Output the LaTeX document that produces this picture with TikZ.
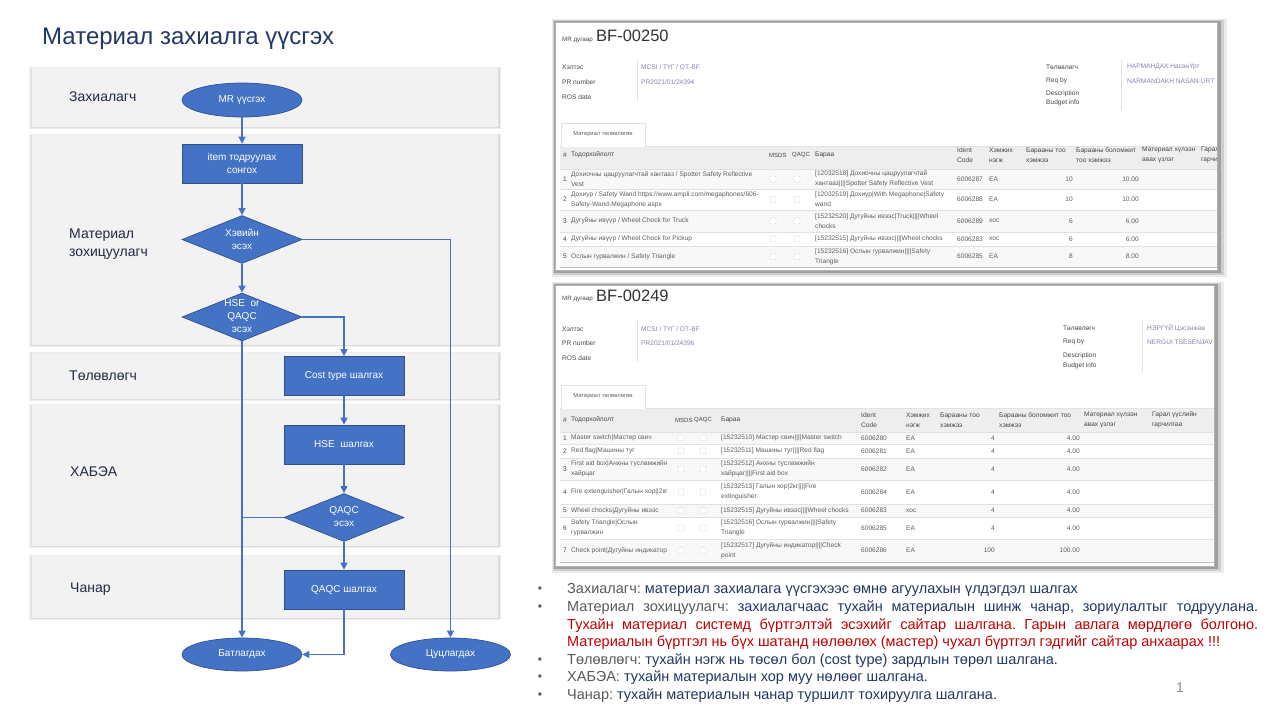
\documentclass[tikz,border=0pt]{standalone}
\usepackage{fontspec}
\setmainfont{Liberation Sans}
\usetikzlibrary{shapes.geometric,arrows.meta,calc}
\definecolor{laneGray}{HTML}{F2F2F2}
\definecolor{nodeBlue}{HTML}{4472C4}
\definecolor{nodeBorder}{HTML}{2F528F}
\definecolor{lineBlue}{HTML}{4472C4}
\definecolor{titleNavy}{HTML}{1F3864}
\definecolor{laneText}{HTML}{1F2A44}
\definecolor{bNavy}{HTML}{203864}
\definecolor{bGray}{HTML}{595959}
\definecolor{bRed}{HTML}{C00000}
\definecolor{ssText}{HTML}{5E5E5E}
\definecolor{ssHead}{HTML}{464646}
\definecolor{ssLink}{HTML}{8585AE}
\definecolor{ssLine}{HTML}{E2E2E2}
\definecolor{ssHeadBg}{HTML}{EEEEEE}
\definecolor{ssRowBg}{HTML}{F8F8F8}
\definecolor{ssBox}{HTML}{CFCFCF}
\newcommand\fsz[2]{\fontsize{#1}{#2}\selectfont}
\newcommand\ssf{\fontsize{6.6}{10}\selectfont}
\newcounter{nc}
\newcommand\tc[3]{\stepcounter{nc}\node[sscell] (s\arabic{nc}) at (#1,#2) {#3};}
\newcommand\tr[3]{\stepcounter{nc}\node[sscell,anchor=east,align=right] (s\arabic{nc}) at (#1,#2) {#3};}
\newcommand\hd[3]{\stepcounter{nc}\node[sscell,text=ssHead] (s\arabic{nc}) at (#1,#2) {#3};}
\newcommand\hs[3]{\stepcounter{nc}\node[sscell,text=ssHead,font=\fsz{6}{8}] (s\arabic{nc}) at (#1,#2) {#3};}
\newcommand\cb[2]{\stepcounter{nc}\node[chk] (s\arabic{nc}) at (#1,#2) {};}
\tikzset{
  lane/.style={fill=laneGray},
  laneshadow/.style={fill=black,opacity=0.07},
  lanelbl/.style={anchor=west,inner sep=0pt,font=\fsz{14}{17.7},text=laneText,align=left},
  proc/.style={rectangle,draw=nodeBorder,fill=nodeBlue,line width=0.7pt,minimum width=120pt,minimum height=39pt,inner sep=1pt,text=white,font=\fsz{10}{13},align=center},
  dec/.style={diamond,draw=nodeBorder,fill=nodeBlue,line width=0.7pt,minimum width=120pt,minimum height=48pt,inner sep=0pt},
  declbl/.style={text=white,font=\fsz{10}{13},align=center,inner sep=0pt},
  term/.style={ellipse,draw=nodeBorder,fill=nodeBlue,line width=0.7pt,minimum width=120pt,minimum height=34pt,inner sep=0pt,text=white,font=\fsz{10}{13}},
  flow/.style={draw=lineBlue,line width=1.1pt,-{Triangle[length=7pt,width=7pt]}},
  flowline/.style={draw=lineBlue,line width=1.1pt},
  sscell/.style={anchor=west,inner sep=0pt,font=\ssf,text=ssText,align=left},
  chk/.style={draw=ssBox,fill=white,minimum size=6pt,inner sep=0pt,rounded corners=0.8pt,line width=0.4pt},
  btxt/.style={anchor=west,inner sep=0pt,font=\fsz{14.5}{17.7}\frenchspacing,text=bNavy},
  bul/.style={anchor=center,inner sep=0pt,font=\fsz{12}{14},text=bGray},
  fld/.style={anchor=west,inner sep=0pt,font=\fsz{6.6}{8},text=ssHead},
  fldv/.style={anchor=west,inner sep=0pt,font=\fsz{6.6}{8},text=ssLink},
}
\begin{document}
\begin{tikzpicture}[x=1pt,y=-1pt]
\useasboundingbox (0,0) rectangle (1280,720);
\fill[white] (0,0) rectangle (1280,720);

% ---------- title ----------
\node[anchor=west,inner sep=0pt,font=\fsz{24}{28},text=titleNavy] (title) at (42,39) {Материал захиалга үүсгэх};

% ---------- swimlanes ----------
\foreach \ya/\yb in {68/127,135/345,353/399,405/546,556/618}{
  \fill[laneshadow] (29,\ya-1) rectangle (501,\yb+2);
  \fill[laneshadow] (30.5,\ya) rectangle (499.5,\yb+1);
  \fill[lane] (32,\ya) rectangle (498,\yb);
}
\node[lanelbl] (l1) at (69,97) {Захиалагч};
\node[lanelbl] (l2) at (69,244) {Материал\\зохицуулагч};
\node[lanelbl] (l3) at (69,376) {Төлөвлөгч};
\node[lanelbl] (l4) at (70,472) {ХАБЭА};
\node[lanelbl] (l5) at (70,589) {Чанар};

% ---------- flowchart nodes ----------
\node[term] (mr) at (242,100) {MR үүсгэх};
\node[proc] (item) at (242,163.5) {item тодруулах\\сонгох};
\node[dec] (hev) at (242,239.5) {};
\node[declbl] (hevt) at (242,239) {Хэвийн\\эсэх};
\node[dec] (hq) at (242,317) {};
\node[declbl] (hqt) at (242,316.5) {HSE\ \ or\\QAQC\\эсэх};
\node[proc] (cost) at (344,376) {Cost type шалгах};
\node[proc] (hse) at (344,444.5) {HSE\ \ шалгах};
\node[dec] (qq) at (344,517.5) {};
\node[declbl] (qqt) at (344,517) {QAQC\\эсэх};
\node[proc] (qaqc) at (344,589.5) {QAQC шалгах};
\node[term,minimum height=33pt] (batl) at (242,654.5) {Батлагдах};
\node[term,minimum height=33pt] (tsuts) at (450.5,654.5) {Цуцлагдах};

% ---------- connectors ----------
\draw[flow] (mr) -- (item);
\draw[flow] (item) -- (hev);
\draw[flow] (hev) -- (hq);
\draw[flow] (hev.east) -| (tsuts.north);
\draw[flow] (hq.east) -| (cost.north);
\draw[flow] (hq.south) -- (batl.north);
\draw[flow] (cost) -- (hse);
\draw[flow] (hse) -- (qq);
\draw[flowline] (qq.west) -- (qq.west -| hq.south);
\draw[flow] (qq) -- (qaqc);
\draw[flow] (qaqc.south) |- (batl.east);

% ================= screenshot 1 =================
\fill[black,opacity=0.08] (552,19) rectangle (1227,277);
\fill[black,opacity=0.12] (553,20) rectangle (1224,275);
\fill[black,opacity=0.22] (554,21) rectangle (1221,273);
\fill[white] (555,22) rectangle (1217,270);
\begin{scope}
\clip (555,22) rectangle (1217,270);
\node[anchor=west,inner sep=0pt,font=\fsz{6.2}{7},text=ssHead] (mr1) at (562,40) {MR дугаар};
\node[anchor=west,inner sep=0pt,font=\fsz{16.5}{18},text=black!80] (bf1) at (596,36) {BF-00250};
\node[fld] (f11) at (562,67) {Хэлтэс};
\node[fld] (f12) at (562,82) {PR number};
\node[fld] (f13) at (562,97) {ROS date};
\node[fldv] (v11) at (641,67) {MCSI / ТҮГ / ОТ-BF};
\node[fldv] (v12) at (641,82) {PR2021/01/24394};
\draw[ssLine,line width=0.6pt] (637,60) -- (637,101);
\node[fld] (f14) at (1046,67) {Төлөвлөгч};
\node[fld] (f15) at (1046,81) {Req by};
\node[fld] (f16) at (1046,94) {Description};
\node[fld] (f17) at (1046,103) {Budget info};
\node[fldv] (v13) at (1127,67) {НАРМАНДАХ НасанҮрт};
\node[fldv] (v14) at (1127,81) {NARMANDAKH NASAN-URT};
\draw[ssLine,line width=0.6pt] (1121,60) -- (1121,110);
% tab
\draw[ssLine,line width=0.6pt] (560,146) -- (561,146) -- (561,123) -- (645,123) -- (645,146) -- (1217,146);
\node[anchor=center,inner sep=0pt,font=\fsz{5.8}{7},text=ssText] (tab1) at (603,134) {Материал төлөвлөгөө};
% table
\fill[ssHeadBg] (560,146.5) rectangle (1217,169);
\fill[ssRowBg] (560,169) rectangle (1217,189);
\fill[ssRowBg] (560,210) rectangle (1217,232);
\fill[ssRowBg] (560,246) rectangle (1217,267);
\foreach \yy in {169,189,210,232,246}{\draw[ssLine,line width=0.5pt] (560,\yy) -- (1217,\yy);}
\draw[black!25,line width=0.8pt] (560,267) -- (1217,267);
\hd{563}{155}{\#}
\hd{571}{155}{Тодорхойлолт}
\hs{769}{155}{MSDS}
\hs{792}{155}{QAQC}
\hd{815}{155}{Бараа}
\hd{957}{155}{Ident\\Code}
\hd{989}{155}{Хэмжих\\нэгж}
\hd{1026}{155}{Барааны тоо\\хэмжээ}
\hd{1076}{155}{Барааны боломжит\\тоо хэмжээ}
\hd{1142}{155}{Материал хүлээн\\авах үзлэг}
\hd{1201}{155}{Гарал үүслийн\\гарчилгаа}
% rows
\hd{563}{179}{1}
\tc{571}{179}{Дохиочны цацруулагчтай хантааз / Spotter Safety Reflective\\Vest}
\cb{773}{179}\cb{797}{179}
\tc{815}{179}{[12032518] Дохиочны цацруулагчтай\\хантааз||||Spotter Safety Reflective Vest}
\tc{957}{179}{6006287}\tc{989}{179}{EA}\tr{1073}{179}{10}\tr{1139}{179}{10.00}
\hd{563}{199.5}{2}
\tc{571}{199.5}{Дохиур / Safety Wand https://www.ampli.com/megaphones/606-\\Safety-Wand-Megaphone.aspx}
\cb{773}{199.5}\cb{797}{199.5}
\tc{815}{199.5}{[12032519] Дохиур|With Megaphone|Safety\\wand}
\tc{957}{199.5}{6006288}\tc{989}{199.5}{EA}\tr{1073}{199.5}{10}\tr{1139}{199.5}{10.00}
\hd{563}{221}{3}
\tc{571}{221}{Дугуйны ивүүр / Wheel Chock for Truck}
\cb{773}{221}\cb{797}{221}
\tc{815}{221}{[15232520] Дугуйны ивээс|Truck||||Wheel\\chocks}
\tc{957}{221}{6006289}\tc{989}{221}{хос}\tr{1073}{221}{6}\tr{1139}{221}{6.00}
\hd{563}{239}{4}
\tc{571}{239}{Дугуйны ивүүр / Wheel Chock for Pickup}
\cb{773}{239}\cb{797}{239}
\tc{815}{239}{[15232515] Дугуйны ивээс||||Wheel chocks}
\tc{957}{239}{6006283}\tc{989}{239}{хос}\tr{1073}{239}{6}\tr{1139}{239}{6.00}
\hd{563}{256.5}{5}
\tc{571}{256.5}{Ослын гурвалжин / Safety Triangle}
\cb{773}{256.5}\cb{797}{256.5}
\tc{815}{256.5}{[15232516] Ослын гурвалжин||||Safety\\Triangle}
\tc{957}{256.5}{6006285}\tc{989}{256.5}{EA}\tr{1073}{256.5}{8}\tr{1139}{256.5}{8.00}
\end{scope}
\draw[black!30,line width=0.5pt] (555,22) rectangle (1217,270);

% ================= screenshot 2 =================
\fill[black,opacity=0.08] (552,282) rectangle (1224,573);
\fill[black,opacity=0.12] (553,283) rectangle (1221,571);
\fill[black,opacity=0.22] (554,284) rectangle (1218,569);
\fill[white] (555,285) rectangle (1214,566);
\begin{scope}
\clip (555,285) rectangle (1214,566);
\node[anchor=west,inner sep=0pt,font=\fsz{6.2}{7},text=ssHead] (mr2) at (562,299) {MR дугаар};
\node[anchor=west,inner sep=0pt,font=\fsz{16.5}{18},text=black!80] (bf2) at (596,296) {BF-00249};
\node[fld] (f21) at (562,329) {Хэлтэс};
\node[fld] (f22) at (562,343) {PR number};
\node[fld] (f23) at (562,358) {ROS date};
\node[fldv] (v21) at (641,329) {MCSI / ТҮГ / ОТ-BF};
\node[fldv] (v22) at (641,343) {PR2021/01/24396};
\draw[ssLine,line width=0.6pt] (637,321) -- (637,362);
\node[fld] (f24) at (1063,328) {Төлөвлөгч};
\node[fld] (f25) at (1063,342) {Req by};
\node[fld] (f26) at (1063,356) {Description};
\node[fld] (f27) at (1063,366) {Budget info};
\node[fldv] (v23) at (1147,328) {НЭРГҮЙ Цэсэнжав};
\node[fldv] (v24) at (1147,342) {NERGUI TSESENJAV};
\draw[ssLine,line width=0.6pt] (1142,320) -- (1142,372);
\draw[ssLine,line width=0.6pt] (560,408) -- (561,408) -- (561,385) -- (645,385) -- (645,408) -- (1214,408);
\node[anchor=center,inner sep=0pt,font=\fsz{5.8}{7},text=ssText] (tab2) at (603,396) {Материал төлөвлөгөө};
\fill[ssHeadBg] (560,408.5) rectangle (1214,432);
\fill[ssRowBg] (560,432) rectangle (1214,444);
\fill[ssRowBg] (560,458) rectangle (1214,480);
\fill[ssRowBg] (560,504) rectangle (1214,517);
\fill[ssRowBg] (560,539) rectangle (1214,562);
\foreach \yy in {432,444,458,480,504,517,539}{\draw[ssLine,line width=0.5pt] (560,\yy) -- (1214,\yy);}
\draw[black!25,line width=0.8pt] (560,562) -- (1214,562);
\hd{563}{420}{\#}
\hd{571}{420}{Тодорхойлолт}
\hs{675}{420}{MSDS}
\hs{694}{420}{QAQC}
\hd{721}{420}{Бараа}
\hd{861}{420}{Ident\\Code}
\hd{906}{420}{Хэмжих\\нэгж}
\hd{940}{420}{Барааны тоо\\хэмжээ}
\hd{999}{420}{Барааны боломжит тоо\\хэмжээ}
\hd{1084}{420}{Материал хүлээн\\авах үзлэг}
\hd{1152}{420}{Гарал үүслийн\\гарчилгаа}
\hd{563}{438}{1}
\tc{571}{438}{Master switch|Мастер свич}
\cb{681}{438}\cb{703}{438}
\tc{721}{438}{[15232510] Мастер свич||||Master switch}
\tc{861}{438}{6006280}\tc{906}{438}{EA}\tr{995}{438}{4}\tr{1080}{438}{4.00}
\hd{563}{451}{2}
\tc{571}{451}{Red flag|Машины туг}
\cb{681}{451}\cb{703}{451}
\tc{721}{451}{[15232511] Машины туг||||Red flag}
\tc{861}{451}{6006281}\tc{906}{451}{EA}\tr{995}{451}{4}\tr{1080}{451}{4.00}
\hd{563}{469}{3}
\tc{571}{469}{First aid box|Анхны тусламжийн\\хайрцаг}
\cb{681}{469}\cb{703}{469}
\tc{721}{469}{[15232512] Анхны тусламжийн\\хайрцаг||||First aid box}
\tc{861}{469}{6006282}\tc{906}{469}{EA}\tr{995}{469}{4}\tr{1080}{469}{4.00}
\hd{563}{492}{4}
\tc{571}{492}{Fire extenguisher|Галын хор||2кг}
\cb{681}{492}\cb{703}{492}
\tc{721}{492}{[15232513] Галын хор|2кг||||Fire\\extinguisher}
\tc{861}{492}{6006284}\tc{906}{492}{EA}\tr{995}{492}{4}\tr{1080}{492}{4.00}
\hd{563}{510.5}{5}
\tc{571}{510.5}{Wheel chocks|Дугуйны ивээс}
\cb{681}{510.5}\cb{703}{510.5}
\tc{721}{510.5}{[15232515] Дугуйны ивээс||||Wheel chocks}
\tc{861}{510.5}{6006283}\tc{906}{510.5}{хос}\tr{995}{510.5}{4}\tr{1080}{510.5}{4.00}
\hd{563}{528}{6}
\tc{571}{528}{Safety Triangle|Ослын\\гурвалжин}
\cb{681}{528}\cb{703}{528}
\tc{721}{528}{[15232516] Ослын гурвалжин||||Safety\\Triangle}
\tc{861}{528}{6006285}\tc{906}{528}{EA}\tr{995}{528}{4}\tr{1080}{528}{4.00}
\hd{563}{550.5}{7}
\tc{571}{550.5}{Check point|Дугуйны индикатор}
\cb{681}{550.5}\cb{703}{550.5}
\tc{721}{550.5}{[15232517] Дугуйны индикатор||||Check\\point}
\tc{861}{550.5}{6006286}\tc{906}{550.5}{EA}\tr{995}{550.5}{100}\tr{1080}{550.5}{100.00}
\end{scope}
\draw[black!30,line width=0.5pt] (555,285) rectangle (1214,566);

% ================= bullets =================
\node[bul] (d1) at (540,590) {•};
\node[bul] (d2) at (540,608) {•};
\node[bul] (d5) at (540,661) {•};
\node[bul] (d6) at (540,678) {•};
\node[bul] (d7) at (540,696) {•};
\node[btxt] (b1) at (567,590) {\color{bGray}Захиалагч: \color{bNavy}материал захиалага үүсгэхээс өмнө агуулахын үлдэгдэл шалгах};
\node[btxt] (b2) at (567,608) {\makebox[691pt][s]{\color{bGray}Материал зохицуулагч: \color{bNavy}захиалагчаас тухайн материалын шинж чанар, зориулалтыг тодруулана.}};
\node[btxt,text=bRed] (b3) at (567,626) {\makebox[691pt][s]{Тухайн материал системд бүртгэлтэй эсэхийг сайтар шалгана. Гарын авлага мөрдлөгө болгоно.}};
\node[btxt,text=bRed] (b4) at (567,643) {Материалын бүртгэл нь бүх шатанд нөлөөлөх (мастер) чухал бүртгэл гэдгийг сайтар анхаарах !!!};
\node[btxt] (b5) at (567,661) {\color{bGray}Төлөвлөгч: \color{bNavy}тухайн нэгж нь төсөл бол (cost type) зардлын төрөл шалгана.};
\node[btxt] (b6) at (567,678) {\color{bGray}ХАБЭА: \color{bNavy}тухайн материалын хор муу нөлөөг шалгана.};
\node[btxt] (b7) at (567,696) {\color{bGray}Чанар: \color{bNavy}тухайн материалын чанар туршилт тохируулга шалгана.};
\node[anchor=center,inner sep=0pt,font=\fsz{14}{16},text=black!45] (pg) at (1180,688) {1};
\end{tikzpicture}
\end{document}
